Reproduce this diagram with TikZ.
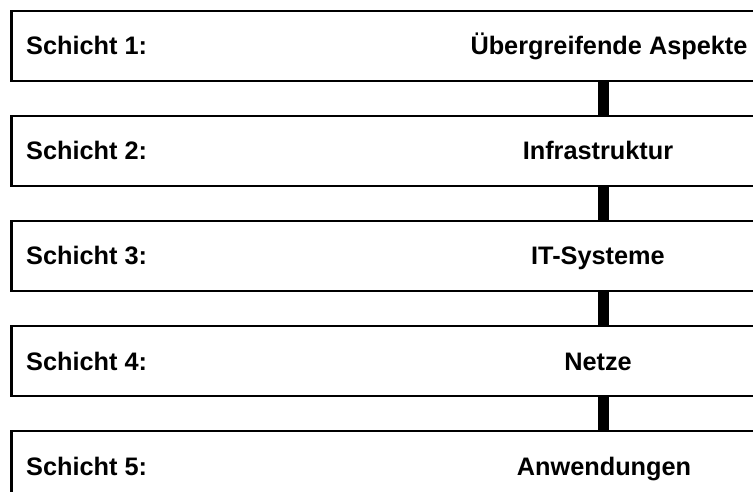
\documentclass[tikz,border=0pt]{standalone}
\usepackage{fontspec}
\setmainfont{Liberation Sans}
\usepackage{tikz}
\usetikzlibrary{positioning,calc}

\begin{document}
\begin{tikzpicture}[x=1pt,y=1pt,
  layer/.style={draw,line width=2.8pt,minimum width=760pt,minimum height=70pt,anchor=west,inner sep=0pt},
  lbl/.style={font=\bfseries\fontsize{25.3}{30}\selectfont,inner sep=0pt}]
\useasboundingbox (0,0) rectangle (753,491);
\clip (0,0) rectangle (753,491);
\coordinate (axis) at (603,0);
% Schichten
\foreach \n/\txt/\cx in {1/Übergreifende Aspekte/609,2/Infrastruktur/598,3/IT-Systeme/598,4/Netze/598,5/Anwendungen/604}{
  \node[layer] (s\n) at (10,445-105*\n+105) {};
  \node[lbl,anchor=base west] (k\n) at ($(s\n.west)+(16,-9)$) {Schicht \n:};
  \node[lbl,anchor=base] (t\n) at ($(s\n.center -| \cx,0)+(0,-9)$) {\txt};
}
% Verbindungen
\foreach \a/\b in {1/2,2/3,3/4,4/5}
  \draw[line width=11pt] (s\a.south -| axis) -- (s\b.north -| axis);
\end{tikzpicture}
\end{document}
